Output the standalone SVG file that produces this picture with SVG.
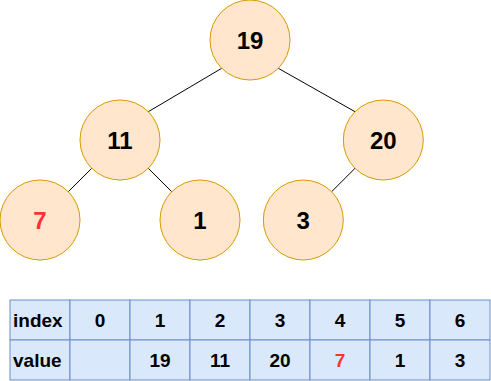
<svg xmlns="http://www.w3.org/2000/svg" width="491" height="381" viewBox="0 0 491 381">
<style>
.node circle{fill:#ffe6cc;stroke:#d79b00;stroke-width:1}
.node text{font-family:"Liberation Sans",Arial,Helvetica,sans-serif;font-weight:bold;font-size:24px;text-anchor:middle;fill:#000}
.red{fill:#ff3333 !important}
.edges line{stroke:#000;stroke-width:1}
.cell{fill:#dae8fc;stroke:#6c8ebf;stroke-width:1}
.tt{font-family:"Liberation Sans",Arial,Helvetica,sans-serif;font-weight:bold;font-size:19px;text-anchor:middle;fill:#000}
.tl{text-anchor:start}
</style>
<rect width="491" height="381" fill="#fff"/>
<g id="edges" class="edges">
<line x1="221.7" y1="68.3" x2="148.3" y2="111.7"/>
<line x1="278.3" y1="68.3" x2="355" y2="111.7"/>
<line x1="91.7" y1="168.3" x2="68.3" y2="191.7"/>
<line x1="148.3" y1="168.3" x2="171.7" y2="191.7"/>
<line x1="355" y1="168.3" x2="331.6" y2="191.7"/>
</g>
<g id="n19" class="node"><circle cx="250" cy="40" r="40"/><text x="250" y="48.6">19</text></g>
<g id="n11" class="node"><circle cx="120" cy="140" r="40"/><text x="120" y="148.6">11</text></g>
<g id="n20" class="node"><circle cx="383.3" cy="140" r="40"/><text x="383.3" y="148.6">20</text></g>
<g id="n7" class="node"><circle cx="40" cy="220" r="40"/><text class="red" x="40" y="228.6">7</text></g>
<g id="n1" class="node"><circle cx="200" cy="220" r="40"/><text x="200" y="228.6">1</text></g>
<g id="n3" class="node"><circle cx="303.3" cy="220" r="40"/><text x="303.3" y="228.6">3</text></g>
<g id="table">
<rect class="cell" x="10" y="300" width="60" height="40"/>
<rect class="cell" x="70" y="300" width="60" height="40"/>
<rect class="cell" x="130" y="300" width="60" height="40"/>
<rect class="cell" x="190" y="300" width="60" height="40"/>
<rect class="cell" x="250" y="300" width="60" height="40"/>
<rect class="cell" x="310" y="300" width="60" height="40"/>
<rect class="cell" x="370" y="300" width="60" height="40"/>
<rect class="cell" x="430" y="300" width="60" height="40"/>
<rect class="cell" x="10" y="340" width="60" height="40"/>
<rect class="cell" x="70" y="340" width="60" height="40"/>
<rect class="cell" x="130" y="340" width="60" height="40"/>
<rect class="cell" x="190" y="340" width="60" height="40"/>
<rect class="cell" x="250" y="340" width="60" height="40"/>
<rect class="cell" x="310" y="340" width="60" height="40"/>
<rect class="cell" x="370" y="340" width="60" height="40"/>
<rect class="cell" x="430" y="340" width="60" height="40"/>
<text class="tt tl" x="13" y="326.8">index</text>
<text class="tt" x="100" y="326.8">0</text>
<text class="tt" x="160" y="326.8">1</text>
<text class="tt" x="220" y="326.8">2</text>
<text class="tt" x="280" y="326.8">3</text>
<text class="tt" x="340" y="326.8">4</text>
<text class="tt" x="400" y="326.8">5</text>
<text class="tt" x="460" y="326.8">6</text>
<text class="tt tl" x="13" y="366.8">value</text>
<text class="tt" x="160" y="366.8">19</text>
<text class="tt" x="220" y="366.8">11</text>
<text class="tt" x="280" y="366.8">20</text>
<text class="tt red" x="340" y="366.8">7</text>
<text class="tt" x="400" y="366.8">1</text>
<text class="tt" x="460" y="366.8">3</text>
</g>
</svg>
